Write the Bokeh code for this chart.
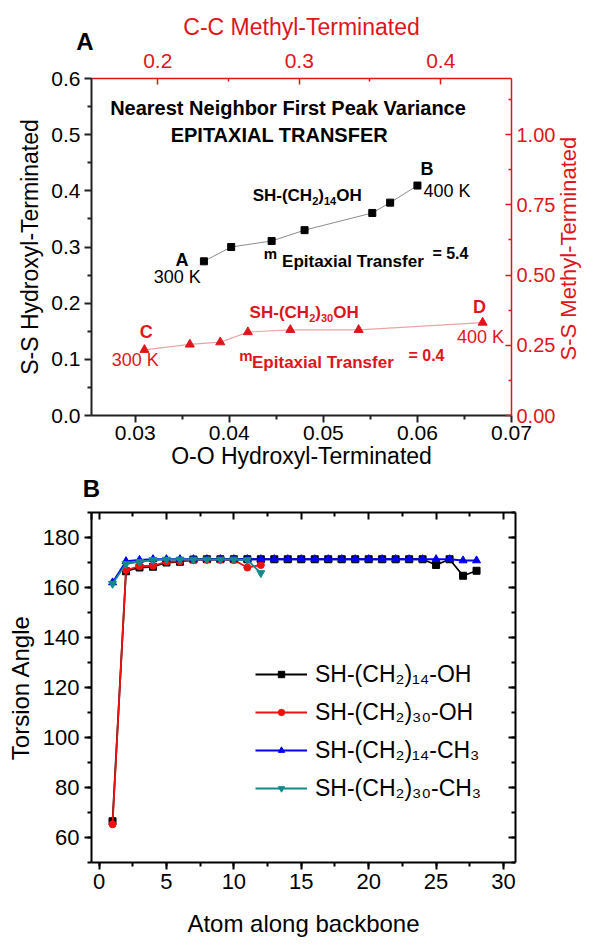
import math
from bokeh.plotting import figure
from bokeh.models import (Range1d, LinearAxis, FixedTicker, SingleIntervalTicker,
                          Legend, LegendItem, PrintfTickFormatter, CustomJSTickFormatter)
from bokeh.layouts import column
from bokeh.core.properties import value
from bokeh.embed import file_html
from bokeh.resources import INLINE

FONT = "Liberation Sans"
RED = "#e0151c"

# ---------------- Panel A data ----------------
oo_hydroxyl = [0.0373, 0.0402, 0.0445, 0.0480, 0.0552, 0.0571, 0.0600]   # bottom axis
ss_hydroxyl = [0.2745, 0.3000, 0.3107, 0.3300, 0.3606, 0.3790, 0.4094]   # left axis
cc_methyl = [0.1906, 0.2227, 0.2442, 0.2637, 0.2937, 0.3420, 0.4296]     # top axis
ss_methyl = [0.234, 0.253, 0.261, 0.297, 0.305, 0.305, 0.331]            # right axis

bottom_ticks = [0.03, 0.04, 0.05, 0.06, 0.07]
bottom_minor = [0.035, 0.045, 0.055, 0.065]
left_ticks = [0.0, 0.1, 0.2, 0.3, 0.4, 0.5, 0.6]
left_minor = [0.05, 0.15, 0.25, 0.35, 0.45, 0.55]
top_ticks = [0.2, 0.3, 0.4]
top_minor = [0.25, 0.35]
right_ticks = [0.0, 0.25, 0.5, 0.75, 1.0]
right_minor = [0.125, 0.375, 0.625, 0.875, 1.125]

# annotation texts (positions in bottom/left data units)
head_text = ["Nearest Neighbor First Peak Variance", "EPITAXIAL TRANSFER"]
head_x = [0.04624, 0.04532]
head_y = [0.5467, 0.4991]

blk_letters = ["A", "B"]
blk_letters_x = [0.03497, 0.06103]
blk_letters_y = [0.2763, 0.4385]
blk_temps = ["300 K", "400 K"]
blk_temps_x = [0.03447, 0.06314]
blk_temps_y = [0.2465, 0.3998]

red_letters = ["C", "D"]
red_letters_x = [0.03117, 0.0666]
red_letters_y = [0.148, 0.193]
red_temps = ["300 K", "400 K"]
red_temps_x = [0.0300, 0.0667]
red_temps_y = [0.098, 0.1403]

# chemical labels: (start x, centre y, chain length)
chem_black = (0.04248, 0.3922, "14")
chem_red = (0.04216, 0.1841, "30")

# ---------------- Panel B data ----------------
atom_14 = [1, 2, 3, 4, 5, 6, 7, 8, 9, 10, 11, 12, 13, 14, 15, 16, 17, 18, 19, 20,
           21, 22, 23, 24, 25, 26, 27, 28]
atom_30 = [1, 2, 3, 4, 5, 6, 7, 8, 9, 10, 11, 12]
tors_14_oh = [66.5, 166.5, 168.0, 168.3, 170.0, 170.3, 171.2, 171.3, 171.3, 171.3,
              171.3, 171.3, 171.3, 171.3, 171.3, 171.3, 171.3, 171.3, 171.3, 171.3,
              171.3, 171.3, 171.3, 171.3, 169.0, 171.3, 164.7, 166.7]
tors_30_oh = [65.3, 167.0, 168.5, 168.7, 170.3, 170.5, 171.0, 171.1, 171.1, 171.0,
              168.0, 169.0]
tors_14_ch3 = [162.0, 170.5, 171.0, 171.3, 171.3, 171.3, 171.3, 171.3, 171.3, 171.3,
               171.3, 171.3, 171.3, 171.3, 171.3, 171.3, 171.3, 171.3, 171.3, 171.3,
               171.3, 171.3, 171.3, 171.3, 171.3, 171.3, 170.8, 170.8]
tors_30_ch3 = [161.5, 169.5, 170.3, 171.0, 171.2, 171.2, 171.2, 171.2, 171.2, 171.2,
               171.0, 165.8]
legend_labels = ["SH-(CH\u2082)\u2081\u2084-OH", "SH-(CH\u2082)\u2083\u2080-OH",
                 "SH-(CH\u2082)\u2081\u2084-CH\u2083", "SH-(CH\u2082)\u2083\u2080-CH\u2083"]

# axis extents (panel frames share the same left edge in the column layout)
A_X = (0.02535, 0.07)
A_CC = (0.1532, 0.45)
B_X = (-0.56, 30.89)
b_top_ticks = [-0.5599, 0, 5, 10, 15, 20, 25, 30]
b_top_minor = [2.5, 7.5, 12.5, 17.5, 22.5, 27.5]


def style_axis(ax, color, lw, tick_in, tick_out, minor_in, minor_out, lab_size, title_size,
               lab_standoff, title_standoff, text_color=None):
    tc = text_color or color
    ax.axis_line_color = color
    ax.axis_line_width = lw
    ax.major_tick_line_color = color
    ax.minor_tick_line_color = color
    ax.major_tick_line_width = lw
    ax.minor_tick_line_width = lw
    ax.major_tick_in = tick_in
    ax.major_tick_out = tick_out
    ax.minor_tick_in = minor_in
    ax.minor_tick_out = minor_out
    ax.major_label_text_color = tc
    ax.major_label_text_font = FONT
    ax.major_label_text_font_size = lab_size
    ax.axis_label_text_color = tc
    ax.axis_label_text_font = FONT
    ax.axis_label_text_font_size = title_size
    ax.axis_label_text_font_style = "normal"
    ax.major_label_standoff = lab_standoff
    ax.axis_label_standoff = title_standoff


def bare(ax):
    ax.axis_line_color = None
    ax.major_tick_line_color = None
    ax.minor_tick_line_color = None
    ax.major_tick_in = 0
    ax.major_tick_out = 0
    ax.minor_tick_in = 0
    ax.minor_tick_out = 0


# ================= Panel A =================
pA = figure(frame_width=420, frame_height=337, x_range=Range1d(*A_X),
            y_range=Range1d(0, 0.6), output_backend="svg", toolbar_location=None,
            min_border_left=79, min_border_right=71, min_border_top=78, min_border_bottom=50)
pA.extra_x_ranges = {"cc": Range1d(*A_CC)}
pA.extra_y_ranges = {"ssm": Range1d(0.0, 1.2)}
pA.grid.visible = False
pA.outline_line_color = None

xa = pA.xaxis[0]
xa.ticker = FixedTicker(ticks=bottom_ticks, minor_ticks=bottom_minor)
xa.formatter = PrintfTickFormatter(format="%.2f")
xa.axis_label = "O-O Hydroxyl-Terminated"
style_axis(xa, "#222222", 2, 0, 7, 0, 4, "21px", "23px", 3, 0, "black")

ya = pA.yaxis[0]
ya.ticker = FixedTicker(ticks=left_ticks, minor_ticks=left_minor)
ya.formatter = PrintfTickFormatter(format="%.1f")
ya.axis_label = "S-S Hydroxyl-Terminated"
style_axis(ya, "#222222", 2, 0, 7, 0, 4, "21px", "23px", 4, 5, "black")

# top (C-C) axis: ticks + numbers
top_ax = LinearAxis(x_range_name="cc",
                    ticker=FixedTicker(ticks=top_ticks, minor_ticks=top_minor),
                    formatter=PrintfTickFormatter(format="%.1f"))
style_axis(top_ax, RED, 1.5, 6, 0, 3, 0, "21px", "23px", 11, 8)
pA.add_layout(top_ax, "above")
# outer top axis: panel letter "A" and the C-C axis title
top_ax2 = LinearAxis(x_range_name="cc", ticker=FixedTicker(ticks=[A_CC[0] + 0.00001]),
                     formatter=CustomJSTickFormatter(code="return 'A\u00a0\u00a0'"),
                     axis_label="C-C Methyl-Terminated")
style_axis(top_ax2, RED, 1, 0, 0, 0, 0, "24px", "23px", -4, -15)
bare(top_ax2)
top_ax2.major_label_text_color = "black"
top_ax2.major_label_text_font_style = "bold"
pA.add_layout(top_ax2, "above")

# right (S-S methyl) axis
right_ax = LinearAxis(y_range_name="ssm",
                      ticker=FixedTicker(ticks=right_ticks, minor_ticks=right_minor),
                      formatter=PrintfTickFormatter(format="%.2f"))
style_axis(right_ax, RED, 1.5, 6, 0, 3, 0, "20px", "22px", 5, 3)
pA.add_layout(right_ax, "right")
# outer right axis carrying the rotated title (reads bottom-to-top)
right_ax2 = LinearAxis(y_range_name="ssm", ticker=FixedTicker(ticks=[0.196]),
                       formatter=CustomJSTickFormatter(code="return 'S-S Methyl-Terminated'"))
style_axis(right_ax2, RED, 1, 0, 0, 0, 0, "22px", "22px", 10, 0)
bare(right_ax2)
right_ax2.major_label_orientation = math.pi / 2
pA.add_layout(right_ax2, "right")

# black series (hydroxyl)
pA.line(oo_hydroxyl, ss_hydroxyl, line_color="#8c8c8c", line_width=1)
pA.scatter(oo_hydroxyl, ss_hydroxyl, marker="square", size=7, color="black")
# red series (methyl)
pA.line(cc_methyl, ss_methyl, line_color="#eaa4a4", line_width=1.2,
        x_range_name="cc", y_range_name="ssm")
pA.scatter(cc_methyl, ss_methyl, marker="triangle", size=9, color=RED,
           x_range_name="cc", y_range_name="ssm")


def txt(p, x, y, t, color, size, style, align="center"):
    p.text(x=x, y=y, text=t, text_color=color, text_font=value(FONT),
           text_font_size=size, text_font_style=style, text_align=align,
           text_baseline="middle")


PX = 0.01 / 94.0      # bottom-axis data units per pixel
PY = 0.6 / 336.7      # left-axis data units per pixel


def chem(p, spec, color):
    """SH-(CH2)nOH with real subscripts, laid out left to right."""
    x0, y0, n = spec
    main, sub = 17, 11
    w_main = {"SH-(CH": 3.499, ")": 0.333, "OH": 1.5}
    pieces = [("SH-(CH", main), ("2", sub), (")", main), (n, sub), ("OH", main)]
    x = x0
    for t, size in pieces:
        if size == main:
            txt(p, [x], [y0], [t], color, f"{main}px", "bold", "left")
            x += w_main[t] * main * PX
        else:
            txt(p, [x], [y0 - 6 * PY], [t], color, f"{sub}px", "bold", "left")
            x += 0.556 * len(t) * sub * PX


txt(pA, head_x, head_y, head_text, "black", "20px", "bold")
chem(pA, chem_black, "black")
txt(pA, blk_letters_x, blk_letters_y, blk_letters, "black", "18px", "bold")
txt(pA, blk_temps_x, blk_temps_y, blk_temps, "black", "18px", "normal")
txt(pA, [0.04436], [0.2882], ["m"], "black", "15px", "bold")
txt(pA, [0.05314], [0.2733], ["Epitaxial Transfer"], "black", "17px", "bold")
txt(pA, [0.06351], [0.2882], ["= 5.4"], "black", "16px", "bold")

chem(pA, chem_red, RED)
txt(pA, red_letters_x, red_letters_y, red_letters, RED, "18px", "bold")
txt(pA, red_temps_x, red_temps_y, red_temps, RED, "18px", "normal")
txt(pA, [0.04176], [0.107], ["m"], RED, "15px", "bold")
txt(pA, [0.04995], [0.095], ["Epitaxial Transfer"], RED, "17px", "bold")
txt(pA, [0.06096], [0.107], ["= 0.4"], RED, "16px", "bold")

# ================= Panel B =================
pB = figure(frame_width=424, frame_height=350, x_range=Range1d(*B_X),
            y_range=Range1d(50, 190), output_backend="svg", toolbar_location=None,
            min_border_left=91, min_border_right=60, min_border_top=36, min_border_bottom=70)
pB.grid.visible = False
pB.outline_line_color = None

xb = pB.xaxis[0]
xb.ticker = SingleIntervalTicker(interval=5, num_minor_ticks=2)
xb.axis_label = "Atom along backbone"
style_axis(xb, "black", 2, 0, 7, 0, 4, "22px", "24px", 4, 18)

yb = pB.yaxis[0]
yb.ticker = SingleIntervalTicker(interval=20, num_minor_ticks=2)
yb.axis_label = "Torsion Angle"
style_axis(yb, "black", 2, 0, 7, 0, 4, "22px", "24px", 5, 6)

# mirrored top axis (inward ticks) that also carries the panel letter "B"
tb = LinearAxis(ticker=FixedTicker(ticks=b_top_ticks, minor_ticks=b_top_minor),
                formatter=CustomJSTickFormatter(code="return tick < -0.5 ? 'B' : ''"))
style_axis(tb, "black", 2, 7, 0, 4, 0, "24px", "10px", 11, 0)
tb.major_label_text_font_style = "bold"
pB.add_layout(tb, "above")
rb = LinearAxis(ticker=SingleIntervalTicker(interval=20, num_minor_ticks=2),
                formatter=CustomJSTickFormatter(code="return ''"))
style_axis(rb, "black", 2, 7, 0, 4, 0, "10px", "10px", 0, 0)
pB.add_layout(rb, "right")

series = [
    (atom_14, tors_14_oh, "black", "square", 7),
    (atom_30, tors_30_oh, "#f01010", "circle", 7),
    (atom_14, tors_14_ch3, "#0000ee", "triangle", 8),
    (atom_30, tors_30_ch3, "#138a8a", "inverted_triangle", 8),
]
items = []
for (xs, ys, col, mk, sz), lab in zip(series, legend_labels):
    lr = pB.line(xs, ys, line_color=col, line_width=1.8)
    sr = pB.scatter(xs, ys, marker=mk, size=sz, color=col)
    items.append(LegendItem(label=lab, renderers=[lr, sr]))

leg = Legend(items=items, location=(164, 55), glyph_width=52, glyph_height=16,
             label_height=38, spacing=0, padding=0, margin=0, label_standoff=8,
             label_text_font=FONT, label_text_font_size="23px", label_text_color="black",
             border_line_alpha=0, background_fill_alpha=0)
pB.add_layout(leg)

layout = column(pA, pB, spacing=0)
open("out.html", "w").write(file_html(layout, INLINE))
